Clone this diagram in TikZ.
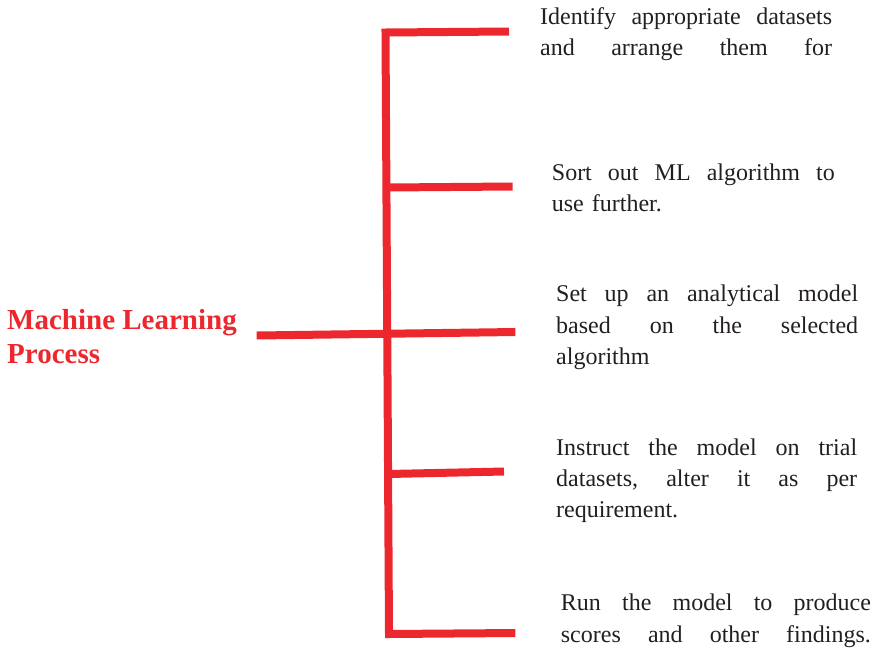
\documentclass[tikz,border=0pt]{standalone}
\usepackage{fontspec}
\setmainfont{Liberation Serif}
\definecolor{mlred}{RGB}{236,40,46}
\definecolor{ink}{RGB}{35,31,32}
\newcommand{\fillline}[1]{\leavevmode\hbox to\stepw{#1}}

\begin{document}
\begin{tikzpicture}[x=1pt,y=-1pt,
  branch/.style={draw=mlred,line width=8pt},
  steptext/.style={text width=#1,align=left,inner sep=0pt,anchor=north west,
    text=ink,font=\fontsize{24}{31.3}\selectfont,
    execute at begin node={\def\stepw{#1}}},
  headline/.style={align=left,inner sep=0pt,anchor=north west,text=mlred,
    font=\bfseries\fontsize{29}{34}\selectfont}]
  \useasboundingbox (0,0) rectangle (886,649);

  % spine and branches
  \coordinate (top) at (385.5,32.5);
  \coordinate (bot) at (389,634);
  \coordinate (e1) at (509,31.5);
  \coordinate (j2) at (387,187.5);
  \coordinate (e2) at (512.7,186.5);
  \coordinate (w3) at (256.7,335.5);
  \coordinate (e3) at (515.3,332);
  \coordinate (j4) at (388.5,474);
  \coordinate (e4) at (504,471.5);
  \coordinate (e5) at (515.3,633);

  \draw[branch] (e1) -- (top) -- (bot) -- (e5);
  \draw[branch] (j2) -- (e2);
  \draw[branch] (w3) -- (e3);
  \draw[branch] (j4) -- (e4);

  \node[headline] (mlp) at (7,305.3) {\strut Machine Learning\\Process};

  \node[steptext=292pt] (s1) at (540,2.1)
    {\strut\fillline{Identify\hfill appropriate\hfill datasets}\\
     \fillline{and\hfill arrange\hfill them\hfill for}};
  \node[steptext=283pt] (s2) at (551.7,158.1)
    {\strut\fillline{Sort\hfill out\hfill ML\hfill algorithm\hfill to}\\use further.};
  \node[steptext=302pt] (s3) at (556,279.8)
    {\strut\fillline{Set\hfill up\hfill an\hfill analytical\hfill model}\\
     \fillline{based\hfill on\hfill the\hfill selected}\\algorithm};
  \node[steptext=301pt] (s4) at (556,433.1)
    {\strut\fillline{Instruct\hfill the\hfill model\hfill on\hfill trial}\\
     \fillline{datasets,\hfill alter\hfill it\hfill as\hfill per}\\requirement.};
  \node[steptext=310pt] (s5) at (560.7,588.8)
    {\strut\fillline{Run\hfill the\hfill model\hfill to\hfill produce}\\
     \fillline{scores\hfill and\hfill other\hfill findings.}};
\end{tikzpicture}
\end{document}
